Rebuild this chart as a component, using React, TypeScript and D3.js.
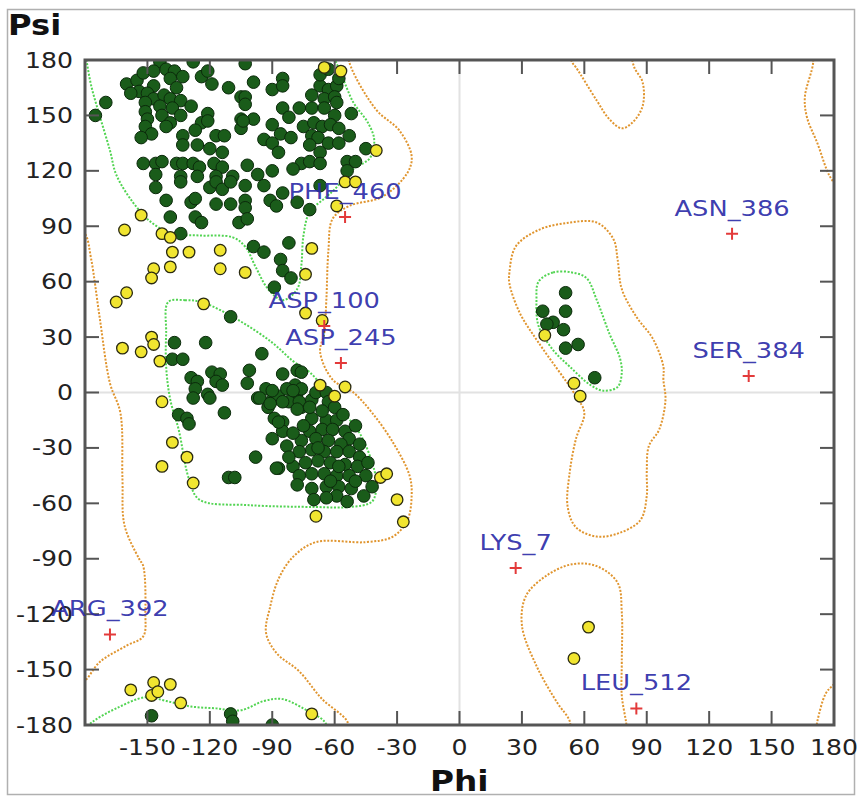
import React from "react";
import * as d3 from "d3";

type P = [number, number];

// axis ticks (degrees)
const phiTicks = [-150, -120, -90, -60, -30, 0, 30, 60, 90, 120, 150, 180];
const psiTicks = [180, 150, 120, 90, 60, 30, 0, -30, -60, -90, -120, -150, -180];
const allTicksX = [-180, ...phiTicks];

// residues in favoured regions: beta sheet area
const favouredBeta: P[] = [
  [-144, 179], [-128, 179], [-160, 167], [-155, 169], [-152, 173], [-147, 174], [-141, 175], [-137, 174],
  [-133, 171], [-139, 170], [-147, 166], [-154, 163], [-150, 162], [-158, 162], [-136, 165], [-124, 171],
  [-121, 174], [-119, 167], [-111, 165], [-105, 160], [-170, 157], [-175, 150], [-147, 159], [-142, 161],
  [-139, 159], [-134, 158], [-129, 155], [-138, 154], [-144, 155], [-151, 157], [-151, 152], [-150, 148],
  [-143, 150], [-139, 146], [-134, 150], [-141, 144], [-121, 151], [-124, 146], [-121, 147], [-151, 144],
  [-148, 140], [-153, 138], [-133, 139], [-127, 142], [-117, 139], [-113, 139], [-133, 134], [-126, 134],
  [-120, 132], [-114, 130], [-105, 143], [-105, 148], [-152, 124], [-146, 124], [-143, 125], [-136, 124],
  [-133, 124], [-128, 124], [-125, 122], [-118, 124], [-114, 122], [-146, 118], [-134, 117], [-126, 117],
  [-117, 117], [-109, 117],
  [-103, 178], [-99, 168], [-90, 164], [-85, 170], [-85, 166], [-103, 160], [-103, 156], [-99, 148],
  [-104, 147], [-90, 145], [-85, 154], [-82, 149], [-77, 154], [-71, 154], [-71, 161], [-67, 166],
  [-63, 164], [-59, 166], [-67, 172], [-65, 159], [-60, 160], [-59, 157], [-65, 154], [-60, 150],
  [-52, 151], [-75, 144], [-70, 146], [-66, 144], [-62, 145], [-58, 143], [-86, 140], [-94, 137],
  [-90, 135], [-81, 138], [-71, 139], [-68, 138], [-63, 135], [-58, 135], [-53, 139], [-72, 134],
  [-67, 130], [-87, 130], [-76, 124], [-72, 125], [-67, 124], [-54, 125], [-50, 125], [-45, 132],
  [-102, 123], [-97, 118], [-90, 120], [-80, 121], [-54, 120], [-63, 175], [-58, 170],
  [-146, 111], [-134, 114], [-141, 104], [-129, 103], [-127, 105], [-120, 111], [-117, 114], [-114, 110],
  [-110, 114], [-103, 112], [-94, 112], [-117, 102], [-110, 102], [-103, 104], [-103, 100], [-91, 104],
  [-88, 101], [-85, 108], [-78, 103], [-72, 99], [-67, 112], [-139, 95], [-127, 95], [-124, 92],
  [-106, 92], [-102, 94], [-134, 86], [-99, 79], [-94, 76], [-82, 81], [-86, 72], [-85, 66],
  [-81, 62], [-89, 57],
];

// favoured: right-handed helix area
const favouredAlpha: P[] = [
  [-110, 41], [-122, 27], [-137, 27], [-138, 18], [-133, 18], [-95, 21], [-129, 8], [-126, 6],
  [-119, 11], [-115, 10], [-117, 6], [-114, 4], [-101, 12], [-102, 5], [-127, 2], [-128, -3],
  [-121, -1], [-120, -3], [-113, -11], [-135, -12], [-131, -14], [-130, -17], [-93, 2], [-90, -4],
  [-97, -3], [-92, -8], [-87, -2], [-85, 10], [-78, 12], [-76, 11], [-79, 4], [-83, 2],
  [-78, 0], [-76, 2], [-82, -5], [-76, -8], [-85, -16], [-89, -14],
  [-90, 1], [-96, -3], [-91, -6], [-85, -5], [-80, 1], [-77, -5], [-71, -4], [-69, 0],
  [-64, 0], [-63, -5], [-78, -9], [-85, -21], [-90, -25], [-98, -35], [-71, -14], [-64, -15],
  [-59, -15], [-72, -21], [-66, -20], [-61, -20], [-55, -21], [-53, -25], [-76, -26], [-69, -25],
  [-63, -26], [-57, -28], [-83, -29], [-77, -32], [-71, -31], [-65, -32], [-59, -32], [-53, -32],
  [-48, -35], [-87, -41], [-80, -40], [-74, -38], [-68, -37], [-62, -38], [-55, -39], [-49, -40],
  [-77, -45], [-71, -44], [-65, -44], [-59, -45], [-53, -45], [-71, -52], [-64, -51], [-58, -51],
  [-52, -52], [-45, -45], [-42, -51], [-46, -56], [-59, -56], [-54, -59], [-64, -57],
  [-66, -10], [-60, -8], [-72, -8], [-56, -12], [-50, -18], [-48, -28], [-44, -38], [-68, -30],
  [-75, -18], [-80, -22], [-82, -35], [-58, -40], [-62, -48], [-50, -48], [-70, -58], [-78, -50],
  [-111, -46], [-108, -46], [-88, -41], [-87, -16],
];

// favoured: left-handed helix and bottom wrap
const favouredAlphaL: P[] = [
  [51, 54], [51, 44], [40, 44], [45, 38], [42, 37], [50, 34], [51, 24], [57, 26], [65, 8],
];
const favouredWrap: P[] = [[-148, -175], [-110, -174], [-109, -178], [-90, -180]];

// residues in allowed regions
const allowedRes: P[] = [
  [-65, 176], [-57, 174], [-40, 131], [-55, 114], [-50, 114], [-59, 101], [-153, 96], [-161, 88],
  [-143, 86], [-139, 84], [-138, 76], [-130, 76], [-115, 77], [-71, 78], [-147, 67], [-148, 62],
  [-139, 68], [-115, 67], [-103, 65], [-74, 64], [-160, 54], [-165, 49], [-123, 48], [-74, 43],
  [-66, 39], [-148, 30], [-147, 26], [-162, 24], [-153, 22], [-144, 17], [-67, 4], [-55, 3],
  [-60, -2], [-143, -5], [-138, -27], [-131, -35], [-143, -40], [-128, -49], [-69, -67], [-30, -58],
  [-27, -70], [-38, -46], [-35, -44], [-158, -161], [-147, -157], [-139, -158], [-148, -164], [-145, -162],
  [-134, -168], [-71, -174], [41, 31], [55, 5], [58, -2], [62, -127], [55, -144],
];

// outliers
const outlierNames = ["PHE_460", "ASP_100", "ASP_245", "ASN_386", "SER_384", "LYS_7", "ARG_392", "LEU_512"];
const outlierPhi = [-55, -65, -57, 131, 139, 27, -168, 85];
const outlierPsi = [95, 36, 16, 86, 9, -95, -131, -171];

// contour lines: favoured (green)
const favBetaLine: P[] = [
  [-180, 186], [-179, 178], [-177, 166], [-173, 150], [-168, 131], [-165, 118], [-157, 103], [-148, 92],
  [-138, 86], [-125, 85], [-109, 84], [-103, 79], [-98, 68], [-92, 56], [-85, 50], [-78, 56],
  [-76, 69], [-75, 85], [-72, 98], [-66, 104], [-60, 110], [-51, 121], [-43, 127], [-41, 137],
  [-44, 146], [-51, 157], [-56, 170], [-60, 181], [-61, 186],
];
const favAlphaLine: P[] = [
  [-140, 49], [-132, 50], [-124, 49], [-106, 39], [-90, 27], [-80, 17], [-72, 11], [-65, 2],
  [-58, -8], [-48, -22], [-42, -38], [-40, -49], [-42, -59], [-53, -62], [-69, -62], [-101, -61],
  [-125, -58], [-130, -47], [-135, -20], [-139, -4], [-141, 14], [-141, 32],
];
const favWrapLine: P[] = [
  [-184, -186], [-176, -178], [-165, -171], [-151, -165], [-141, -167], [-129, -170], [-117, -171], [-105, -172],
  [-94, -167], [-85, -166], [-72, -173], [-65, -178], [-62, -186],
];
const favAlphaLLine: P[] = [
  [38, 60], [45, 65], [54, 65], [61, 62], [66, 50], [72, 32], [77, 19], [78, 11],
  [76, 3], [69, 1], [63, 4], [53, 14], [45, 23], [38, 36], [37, 50],
];

// contour lines: allowed (orange)
const allowLeftLine: P[] = [
  [-184, 89], [-180, 86], [-177, 72], [-173, 41], [-168, 5], [-163, -11], [-162, -47], [-161, -72],
  [-154, -90], [-152, -94], [-151, -119], [-152, -132], [-160, -137], [-173, -146], [-180, -156], [-184, -158],
];
const allowMainLine: P[] = [
  [-53, 186], [-53, 179], [-40, 153], [-29, 142], [-23, 128], [-25, 119], [-37, 106], [-53, 101],
  [-61, 94], [-63, 77], [-64, 50], [-65, 32], [-67, 22], [-61, 7], [-51, 0], [-42, -11],
  [-32, -27], [-24, -45], [-23, -56], [-25, -69], [-32, -78], [-45, -81], [-69, -81], [-80, -89],
  [-87, -101], [-91, -116], [-93, -130], [-88, -141], [-77, -151], [-66, -166], [-54, -178], [-53, -186],
];
const allowTopLine: P[] = [
  [53, 186], [54, 179], [56, 176], [66, 158], [72, 148], [78, 143], [83, 146], [88, 155],
  [88, 168], [84, 176], [82, 186],
];
const allowRightTop: P[] = [[169, 186], [170, 179], [166, 160], [167, 149], [172, 135], [178, 117], [184, 108]];
const allowRightBottom: P[] = [[184, -154], [179, -159], [176, -163], [172, -178], [171, -186]];
const allowAlphaLLine: P[] = [
  [24, 65], [27, 79], [38, 88], [53, 92], [66, 92], [74, 83], [76, 72], [78, 56],
  [85, 41], [93, 29], [98, 14], [98, 7], [99, -4], [96, -20], [91, -29], [90, -43],
  [90, -56], [87, -69], [77, -76], [66, -78], [56, -73], [52, -62], [53, -43], [56, -25],
  [60, -11], [56, -2], [38, 27], [29, 43], [24, 59],
];
const allowGammaLine: P[] = [
  [53, -186], [53, -178], [47, -168], [37, -148], [30, -126], [32, -110], [42, -99], [54, -93],
  [66, -94], [76, -103], [78, -119], [78, -146], [78, -164], [80, -178], [81, -186],
];

const FONT = "DejaVu Sans, sans-serif";

export default function App() {
  const W = 858;
  const H = 797;
  const x = d3.scaleLinear().domain([-180, 180]).range([85, 834]);
  const y = d3.scaleLinear().domain([180, -180]).range([60, 725]);
  const [x0, x1] = x.range();
  const [y0, y1] = y.range();

  const open = d3.line<P>().x((d) => x(d[0])).y((d) => y(d[1])).curve(d3.curveCatmullRom);
  const closed = d3.line<P>().x((d) => x(d[0])).y((d) => y(d[1])).curve(d3.curveCatmullRomClosed);

  const green = "#52d452";
  const orange = "#e0952f";
  const dash = "2 1.6";

  const favOpen = [favBetaLine, favWrapLine];
  const favClosed = [favAlphaLine, favAlphaLLine];
  const allowOpen = [allowLeftLine, allowMainLine, allowTopLine, allowRightTop, allowRightBottom, allowGammaLine];
  const allowClosed = [allowAlphaLLine];

  const greens = [...favouredBeta, ...favouredAlpha, ...favouredAlphaL, ...favouredWrap];
  const sx = 1.17;

  return (
    <svg width={W} height={H} style={{ position: "absolute", left: 0, top: 0, background: "#fff" }}>
      <defs>
        <clipPath id="plot">
          <rect x={x0} y={y0} width={x1 - x0} height={y1 - y0} />
        </clipPath>
      </defs>
      <rect x={7.5} y={9.5} width={847} height={785} fill="#fff" stroke="#b0b0b0" strokeWidth={1.5} />

      <g clipPath="url(#plot)">
        <line x1={x(0)} x2={x(0)} y1={y0} y2={y1} stroke="#e2e2e2" strokeWidth={2} />
        <line x1={x0} x2={x1} y1={y(0)} y2={y(0)} stroke="#e2e2e2" strokeWidth={2} />

        {allowOpen.map((c, i) => (
          <path key={"ao" + i} d={open(c) || ""} fill="none" stroke={orange} strokeWidth={2} strokeDasharray={dash} />
        ))}
        {allowClosed.map((c, i) => (
          <path key={"ac" + i} d={closed(c) || ""} fill="none" stroke={orange} strokeWidth={2} strokeDasharray={dash} />
        ))}
        {favOpen.map((c, i) => (
          <path key={"fo" + i} d={open(c) || ""} fill="none" stroke={green} strokeWidth={2} strokeDasharray={dash} />
        ))}
        {favClosed.map((c, i) => (
          <path key={"fc" + i} d={closed(c) || ""} fill="none" stroke={green} strokeWidth={2} strokeDasharray={dash} />
        ))}

        {greens.map((d, i) => (
          <circle key={"g" + i} cx={x(d[0])} cy={y(d[1])} r={6.3} fill="#1a5c1a" stroke="#0b2a0b" strokeWidth={1} />
        ))}
        {allowedRes.map((d, i) => (
          <circle key={"y" + i} cx={x(d[0])} cy={y(d[1])} r={5.8} fill="#f1e530" stroke="#2a2a10" strokeWidth={1.3} />
        ))}
      </g>

      {/* frame */}
      <rect x={x0} y={y0} width={x1 - x0} height={y1 - y0} fill="none" stroke="#555" strokeWidth={3} />
      {allTicksX.map((t) => (
        <g key={"xt" + t}>
          <line x1={x(t)} x2={x(t)} y1={y0} y2={y0 + 14} stroke="#555" strokeWidth={2} />
          <line x1={x(t)} x2={x(t)} y1={y1} y2={y1 - 14} stroke="#555" strokeWidth={2} />
        </g>
      ))}
      {psiTicks.map((t) => (
        <g key={"yt" + t}>
          <line x1={x0} x2={x0 + 14} y1={y(t)} y2={y(t)} stroke="#555" strokeWidth={2} />
          <line x1={x1} x2={x1 - 14} y1={y(t)} y2={y(t)} stroke="#555" strokeWidth={2} />
        </g>
      ))}

      {phiTicks.map((t) => (
        <text key={"xl" + t} transform={`translate(${x(t)},755) scale(${sx},1)`} textAnchor="middle"
          fontFamily={FONT} fontSize={21.5} fill="#222">{t}</text>
      ))}
      {psiTicks.map((t) => (
        <text key={"yl" + t} transform={`translate(73,${y(t) + 7.5}) scale(${sx},1)`} textAnchor="end"
          fontFamily={FONT} fontSize={21.5} fill="#222">{t}</text>
      ))}

      <text transform={`translate(8,35) scale(${sx},1)`} fontFamily={FONT} fontSize={27.5} fontWeight="bold" fill="#111">Psi</text>
      <text transform={`translate(430,791) scale(${sx},1)`} fontFamily={FONT} fontSize={28} fontWeight="bold" fill="#111">Phi</text>

      {outlierNames.map((n, i) => {
        const cx = x(outlierPhi[i]);
        const cy = y(outlierPsi[i]);
        return (
          <g key={n}>
            <path d={`M${cx - 6},${cy}H${cx + 6}M${cx},${cy - 6}V${cy + 6}`} stroke="#e33a3a" strokeWidth={2} />
            <text transform={`translate(${cx},${cy - 18}) scale(${sx},1)`} textAnchor="middle" fontFamily={FONT}
              fontSize={22} fill="#2c2ca8" fillOpacity={0.92}>{n}</text>
          </g>
        );
      })}
    </svg>
  );
}
